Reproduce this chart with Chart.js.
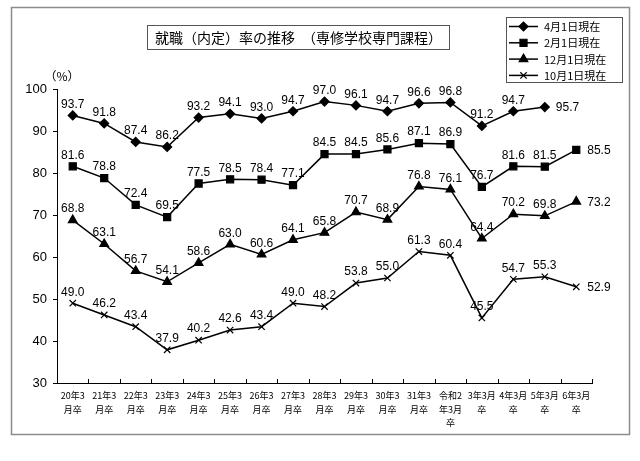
<!DOCTYPE html>
<html>
<head>
<meta charset="utf-8">
<script src="https://cdn.jsdelivr.net/npm/chart.js@4"></script>
<style>
  html, body { margin: 0; padding: 0; background: #fff; }
  #wrap { width: 640px; height: 461px; }
</style>
</head>
<body>
<div id="wrap"><canvas id="chart" width="640" height="461"></canvas></div>
<script>
const categories = [
  ['20年3', '月卒'], ['21年3', '月卒'], ['22年3', '月卒'], ['23年3', '月卒'],
  ['24年3', '月卒'], ['25年3', '月卒'], ['26年3', '月卒'], ['27年3', '月卒'],
  ['28年3', '月卒'], ['29年3', '月卒'], ['30年3', '月卒'], ['31年3', '月卒'],
  ['令和2', '年3月', '卒'], ['3年3月', '卒'], ['4年3月', '卒'], ['5年3月', '卒'], ['6年3月', '卒']
];
const seriesNames = ['4月1日現在', '2月1日現在', '12月1日現在', '10月1日現在'];
const april = [93.7, 91.8, 87.4, 86.2, 93.2, 94.1, 93.0, 94.7, 97.0, 96.1, 94.7, 96.6, 96.8, 91.2, 94.7, 95.7, null];
const february = [81.6, 78.8, 72.4, 69.5, 77.5, 78.5, 78.4, 77.1, 84.5, 84.5, 85.6, 87.1, 86.9, 76.7, 81.6, 81.5, 85.5];
const december = [68.8, 63.1, 56.7, 54.1, 58.6, 63.0, 60.6, 64.1, 65.8, 70.7, 68.9, 76.8, 76.1, 64.4, 70.2, 69.8, 73.2];
const october = [49.0, 46.2, 43.4, 37.9, 40.2, 42.6, 43.4, 49.0, 48.2, 53.8, 55.0, 61.3, 60.4, 45.5, 54.7, 55.3, 52.9];
const yTicks = [30, 40, 50, 60, 70, 80, 90, 100];

const titleText = '就職（内定）率の推移　（専修学校専門課程）';
const jpFont = '"Noto Sans CJK JP", sans-serif';
const numFont = '"Liberation Sans", Arial, sans-serif';

const markers = [
  { style: 'rectRot', radius: 4.5 },
  { style: 'rect', radius: 5 },
  { style: 'triangle', radius: 5 },
  { style: 'crossRot', radius: 4.5 }
];

function makeSet(name, data, i) {
  return {
    label: name,
    data: data,
    borderColor: '#000',
    backgroundColor: '#000',
    borderWidth: 1.5,
    pointStyle: markers[i].style,
    pointRadius: markers[i].radius,
    pointBorderWidth: 1.2,
    pointBorderColor: '#000',
    pointBackgroundColor: '#000',
    tension: 0,
    spanGaps: false
  };
}

// frame around the whole chart
const framePlugin = {
  id: 'frame',
  beforeDraw(chart) {
    const ctx = chart.ctx;
    ctx.save();
    ctx.fillStyle = '#fff';
    ctx.fillRect(0, 0, chart.width, chart.height);
    ctx.strokeStyle = '#8c8c8c';
    ctx.lineWidth = 1.5;
    ctx.strokeRect(11.5, 7.5, 618, 427);
    ctx.restore();
  }
};

// title box, (%), legend, x tick marks, value labels
const extrasPlugin = {
  id: 'extras',
  afterDraw(chart) {
    const ctx = chart.ctx;
    const xs = chart.scales.x;
    const area = chart.chartArea;
    ctx.save();

    // title
    ctx.strokeStyle = '#555';
    ctx.lineWidth = 1;
    ctx.strokeRect(147.5, 25.5, 302, 24);
    ctx.fillStyle = '#000';
    ctx.font = '14px ' + jpFont;
    ctx.textAlign = 'center';
    ctx.textBaseline = 'middle';
    ctx.fillText(titleText, 298.5, 37.5);

    // unit
    ctx.font = '12px ' + jpFont;
    ctx.fillText('（%）', 62, 76);

    // x tick marks (pointing up)
    ctx.strokeStyle = '#000';
    ctx.lineWidth = 1;
    const n = categories.length;
    const step = (xs.right - xs.left) / n;
    for (let i = 1; i <= n; i++) {
      const x = Math.round(xs.left + i * step) + 0.5;
      ctx.beginPath();
      ctx.moveTo(x, area.bottom);
      ctx.lineTo(x, area.bottom - 4);
      ctx.stroke();
    }

    // value labels
    ctx.font = '12px ' + numFont;
    ctx.fillStyle = '#000';
    chart.data.datasets.forEach((ds, di) => {
      const meta = chart.getDatasetMeta(di);
      let last = -1;
      ds.data.forEach((v, k) => { if (v !== null) last = k; });
      meta.data.forEach((pt, k) => {
        const v = ds.data[k];
        if (v === null) return;
        if (k === last) {
          ctx.textAlign = 'left';
          ctx.fillText(v.toFixed(1), pt.x + 11, pt.y + 1);
        } else {
          ctx.textAlign = 'center';
          ctx.fillText(v.toFixed(1), pt.x, pt.y - 11);
        }
      });
    });

    // legend
    ctx.strokeStyle = '#555';
    ctx.lineWidth = 1;
    ctx.strokeRect(506.5, 17.5, 116, 65);
    ctx.textAlign = 'left';
    ctx.font = '11px ' + jpFont;
    chart.data.datasets.forEach((ds, di) => {
      const y = 26.5 + di * 16.3;
      ctx.strokeStyle = '#000';
      ctx.lineWidth = 1.5;
      ctx.beginPath();
      ctx.moveTo(509, y);
      ctx.lineTo(538, y);
      ctx.stroke();
      ctx.fillStyle = '#000';
      ctx.lineWidth = 1.2;
      Chart.helpers.drawPoint(ctx, {
        pointStyle: markers[di].style,
        radius: markers[di].radius,
        rotation: 0,
        borderWidth: 1.2
      }, 523.5, y);
      ctx.fillStyle = '#000';
      ctx.fillText(ds.label, 544, y + 0.5);
    });

    ctx.restore();
  }
};

new Chart(document.getElementById('chart').getContext('2d'), {
  type: 'line',
  data: {
    labels: categories,
    datasets: [
      makeSet(seriesNames[0], april, 0),
      makeSet(seriesNames[1], february, 1),
      makeSet(seriesNames[2], december, 2),
      makeSet(seriesNames[3], october, 3)
    ]
  },
  options: {
    responsive: false,
    animation: false,
    clip: false,
    layout: { padding: { left: 0, top: 89, right: 48, bottom: 0 } },
    plugins: {
      legend: { display: false },
      tooltip: { enabled: false },
      title: { display: false }
    },
    scales: {
      x: {
        type: 'category',
        offset: true,
        afterFit(s) { s.height = 78; },
        grid: { display: false, drawTicks: false },
        border: { display: true, color: '#000', width: 1 },
        ticks: {
          autoSkip: false,
          maxRotation: 0,
          minRotation: 0,
          padding: 6,
          color: '#000',
          font: { family: jpFont, size: 9, lineHeight: 1.5 }
        }
      },
      y: {
        min: 30,
        max: 100,
        afterFit(s) { s.width = 57; },
        afterBuildTicks(s) { s.ticks = yTicks.map(v => ({ value: v })); },
        grid: { drawOnChartArea: false, drawTicks: true, tickLength: 4, color: '#000' },
        border: { display: true, color: '#000', width: 1 },
        ticks: {
          padding: 6,
          color: '#000',
          font: { family: numFont, size: 13 }
        }
      }
    }
  },
  plugins: [framePlugin, extrasPlugin]
});
</script>
</body>
</html>
